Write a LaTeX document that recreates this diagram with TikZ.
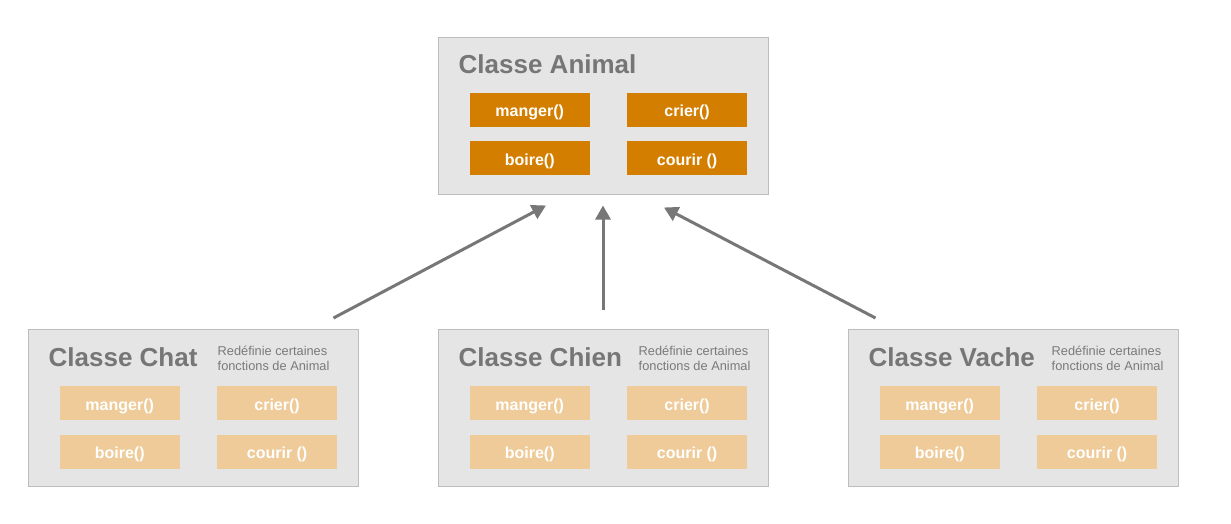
\documentclass[tikz,border=0pt]{standalone}
\usepackage{fontspec}
\setmainfont{Liberation Sans}
\usetikzlibrary{
  positioning,
  arrows.meta,
  calc
}
\definecolor{boxGray}{HTML}{E5E5E5}
\definecolor{edgeGray}{HTML}{BDBDBD}
\definecolor{titleGray}{HTML}{767676}
\definecolor{noteGray}{HTML}{7A7A7A}
\definecolor{arrowGray}{HTML}{777777}
\definecolor{baseOrange}{HTML}{D47E00}
\definecolor{paleOrange}{HTML}{EECB98}
\tikzset{
  classBox/.style={
    draw=edgeGray, fill=boxGray, line width=1pt,
    minimum width=330pt, minimum height=157pt, inner sep=0pt
  },
  classTitle/.style={
    anchor=west, inner sep=0pt, text=titleGray,
    font=\fontsize{26}{29}\selectfont\bfseries
  },
  classNote/.style={
    anchor=west, inner sep=0pt, text=noteGray, align=left,
    font=\fontsize{12.8}{15}\selectfont
  },
  method/.style={
    minimum width=120pt, minimum height=34pt, inner sep=0pt,
    text height=14pt, text depth=0pt,
    text=white, font=\fontsize{16}{18}\selectfont\bfseries
  },
  baseMethod/.style={method, fill=baseOrange},
  subMethod/.style={method, fill=paleOrange},
  inherit/.style={
    draw=arrowGray, line width=3pt,
    -{Triangle[length=14pt,width=15pt]}
  }
}

\begin{document}
\begin{tikzpicture}[x=1pt, y=-1pt]
\useasboundingbox[fill=white] (0,0) rectangle (1231,523);

% ── BASE CLASS ─────────────────────────────────────────────────────
\node[classBox] (animal) at (603,115.5) {};
\node[classTitle] (animalT) at ($(animal.north west)+(21,27.5)$) {Classe Animal};
\node[baseMethod, anchor=north west] (aM) at ($(animal.north west)+(32,56)$) {manger()};
\node[baseMethod, right=37pt of aM] (aC) {crier()};
\node[baseMethod, below=14pt of aM] (aB) {boire()};
\node[baseMethod, below=14pt of aC] (aR) {courir ()};

% ── SUBCLASS: Chat ─────────────────────────────────────────────────
\node[classBox] (chat) at (193,408) {};
\node[classTitle] (chatT) at ($(chat.north west)+(21,28.5)$) {Classe Chat};
\node[classNote] (chatN) at ($(chat.north west)+(190,29)$)
  {Redéfinie certaines\\fonctions de Animal};
\node[subMethod, anchor=north west] (cM) at ($(chat.north west)+(32,57)$) {manger()};
\node[subMethod, right=37pt of cM] (cC) {crier()};
\node[subMethod, below=14pt of cM] (cB) {boire()};
\node[subMethod, below=14pt of cC] (cR) {courir ()};

% ── SUBCLASS: Chien ────────────────────────────────────────────────
\node[classBox] (chien) at (603,408) {};
\node[classTitle] (chienT) at ($(chien.north west)+(21,28.5)$) {Classe Chien};
\node[classNote] (chienN) at ($(chien.north west)+(201,29)$)
  {Redéfinie certaines\\fonctions de Animal};
\node[subMethod, anchor=north west] (dM) at ($(chien.north west)+(32,57)$) {manger()};
\node[subMethod, right=37pt of dM] (dC) {crier()};
\node[subMethod, below=14pt of dM] (dB) {boire()};
\node[subMethod, below=14pt of dC] (dR) {courir ()};

% ── SUBCLASS: Vache ────────────────────────────────────────────────
\node[classBox] (vache) at (1013,408) {};
\node[classTitle] (vacheT) at ($(vache.north west)+(21,28.5)$) {Classe Vache};
\node[classNote] (vacheN) at ($(vache.north west)+(204,29)$)
  {Redéfinie certaines\\fonctions de Animal};
\node[subMethod, anchor=north west] (vM) at ($(vache.north west)+(32,57)$) {manger()};
\node[subMethod, right=37pt of vM] (vC) {crier()};
\node[subMethod, below=14pt of vM] (vB) {boire()};
\node[subMethod, below=14pt of vC] (vR) {courir ()};

% ── EDGES ───────────────────────────────────────────────────────────
\coordinate (chatOut)  at ($(chat.north east)+(-25,-11)$);
\coordinate (chienOut) at ($(chien.north)+(0,-19)$);
\coordinate (vacheOut) at ($(vache.north west)+(28,-11)$);
\coordinate (inL) at ($(animal.south)+(-57,11)$);
\coordinate (inM) at ($(animal.south)+(0,11)$);
\coordinate (inR) at ($(animal.south)+(61,13)$);

\draw[inherit] (chatOut)  -- (inL);
\draw[inherit] (chienOut) -- (inM);
\draw[inherit] (vacheOut) -- (inR);

\end{tikzpicture}
\end{document}
